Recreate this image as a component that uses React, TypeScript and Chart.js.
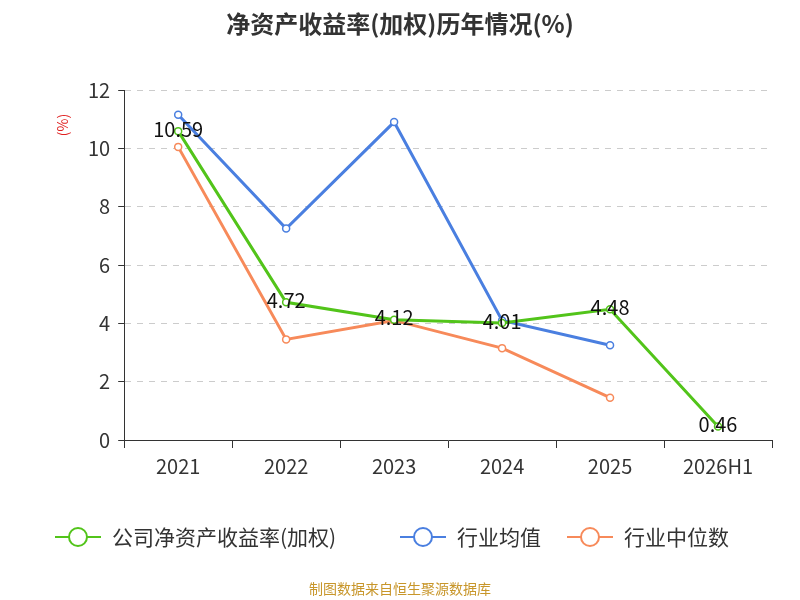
import React, { useEffect, useRef } from "react";
import { Chart, registerables } from "chart.js";
Chart.register(...registerables);

const categories = ["2021", "2022", "2023", "2024", "2025", "2026H1"];
const companyRoe = [10.59, 4.72, 4.12, 4.01, 4.48, 0.46];
const industryMean = [11.15, 7.25, 10.9, 4.1, 3.25, null];
const industryMedian = [10.05, 3.45, 4.1, 3.15, 1.45, null];
const seriesNames = ["公司净资产收益率(加权)", "行业均值", "行业中位数"];
const colors = ["#52c41a", "#4a7fe0", "#f78a5a"];

const FONT = "'Noto Sans CJK SC', 'Noto Sans', sans-serif";

const decor = {
  id: "decor",
  afterDraw(chart: any) {
    const ctx = chart.ctx;
    ctx.save();
    ctx.fillStyle = "#333";
    ctx.font = `bold 24px ${FONT}`;
    ctx.textAlign = "center";
    ctx.textBaseline = "middle";
    ctx.fillText("净资产收益率(加权)历年情况(%)", 400, 24);
    ctx.save();
    ctx.translate(63, 125);
    ctx.rotate(-Math.PI / 2);
    ctx.fillStyle = "#e02020";
    ctx.font = `14px ${FONT}`;
    ctx.fillText("(%)", 0, 0);
    ctx.restore();
    const meta = chart.getDatasetMeta(0);
    ctx.fillStyle = "#111";
    ctx.font = `20px ${FONT}`;
    meta.data.forEach((p: any, i: number) => {
      ctx.fillText(companyRoe[i].toFixed(2), p.x, p.y - 2);
    });
    const items = [{ x: 55 }, { x: 400 }, { x: 567 }];
    ctx.font = `21px ${FONT}`;
    ctx.textAlign = "left";
    items.forEach((it, i) => {
      const y = 537;
      ctx.strokeStyle = colors[i];
      ctx.lineWidth = 2;
      ctx.beginPath();
      ctx.moveTo(it.x, y);
      ctx.lineTo(it.x + 46, y);
      ctx.stroke();
      ctx.beginPath();
      ctx.arc(it.x + 23, y, 9, 0, Math.PI * 2);
      ctx.fillStyle = "#fff";
      ctx.fill();
      ctx.stroke();
      ctx.fillStyle = "#333";
      ctx.fillText(seriesNames[i], it.x + 57, y);
    });
    ctx.textAlign = "center";
    ctx.fillStyle = "#c8962a";
    ctx.font = `14px ${FONT}`;
    ctx.fillText("制图数据来自恒生聚源数据库", 400, 589);
    ctx.restore();
  },
};

export default function App() {
  const ref = useRef<HTMLCanvasElement>(null);
  useEffect(() => {
    const mk = (i: number, data: any[]) => ({
      label: seriesNames[i],
      data,
      borderColor: colors[i],
      backgroundColor: "#fff",
      borderWidth: 3,
      pointRadius: 3.5,
      pointBorderWidth: 1.5,
      pointBackgroundColor: "#fff",
      tension: 0,
    });
    const chart = new Chart(ref.current!, {
      type: "line",
      data: {
        labels: categories,
        datasets: [mk(0, companyRoe), mk(1, industryMean), mk(2, industryMedian)],
      },
      options: {
        animation: false,
        responsive: false,
        layout: { padding: { top: 90, left: 80, right: 28, bottom: 116 } },
        plugins: { legend: { display: false }, title: { display: false }, tooltip: { enabled: false } },
        scales: {
          x: {
            offset: true,
            grid: { display: true, drawOnChartArea: false, tickLength: 8, color: "#333", offset: true },
            border: { color: "#333" },
            ticks: { color: "#333", font: { size: 20, family: FONT }, padding: 6 },
          },
          y: {
            min: 0,
            max: 12,
            ticks: { stepSize: 2, color: "#333", font: { size: 20, family: FONT }, padding: 8 },
            grid: { color: "#ccc", tickLength: 6, tickColor: "#333" } as any,
            border: { dash: [6, 6], color: "#333" } as any,
          },
        },
      },
      plugins: [decor],
    });
    return () => chart.destroy();
  }, []);
  return (
    <div style={{ position: "fixed", left: 0, top: 0, width: 800, height: 600, background: "#fff" }}>
      <canvas ref={ref} width={800} height={600} />
    </div>
  );
}
